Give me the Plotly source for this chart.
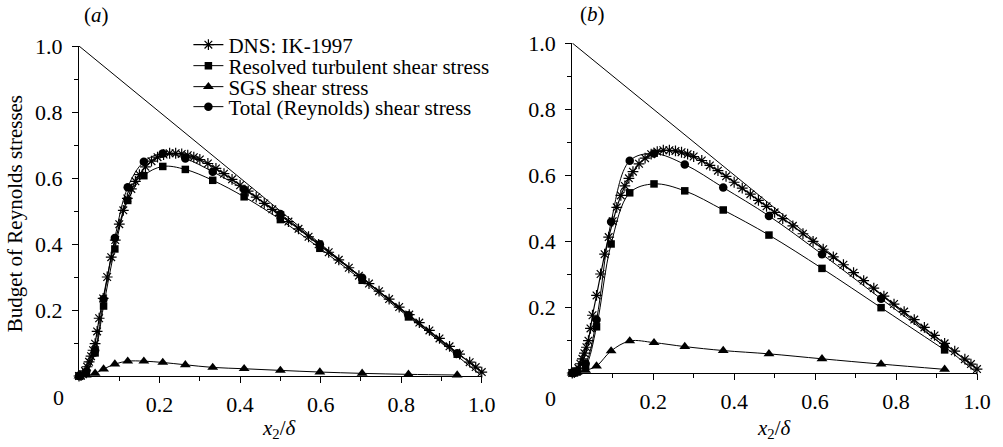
import plotly.graph_objects as go

# ---------------- data ----------------
# DNS: IK-1997 (same reference data in both panels)
dns_x = [0, 0.005, 0.01, 0.015, 0.02, 0.025, 0.03, 0.035, 0.04, 0.045, 0.05, 0.06, 0.07, 0.08,
         0.09, 0.10, 0.11, 0.12, 0.13, 0.14, 0.15, 0.165, 0.18, 0.195, 0.21, 0.225, 0.24, 0.255,
         0.27, 0.285, 0.30, 0.32, 0.34, 0.36, 0.38, 0.40, 0.42, 0.44, 0.46, 0.48, 0.50, 0.52,
         0.545, 0.57, 0.595, 0.62, 0.645, 0.67, 0.695, 0.72, 0.745, 0.77, 0.795, 0.82, 0.845,
         0.87, 0.895, 0.92, 0.945, 0.97, 0.985, 1.0]
dns_y = [0, 0.001, 0.005, 0.015, 0.028, 0.043, 0.06, 0.078, 0.098, 0.135, 0.175, 0.235, 0.3, 0.36,
         0.412, 0.46, 0.502, 0.538, 0.567, 0.59, 0.61, 0.634, 0.651, 0.663, 0.671, 0.675, 0.675, 0.673,
         0.669, 0.663, 0.656, 0.644, 0.629, 0.613, 0.596, 0.578, 0.56, 0.542, 0.523, 0.505, 0.487, 0.468,
         0.446, 0.422, 0.399, 0.375, 0.352, 0.328, 0.304, 0.28, 0.257, 0.233, 0.209, 0.186, 0.162,
         0.138, 0.114, 0.09, 0.066, 0.042, 0.027, 0.012]

# total stress line (1 - x2/delta)
diag_x = [0.0, 1.0]
diag_y = [1.0, 0.0]

# Panel (a) LES
xa = [0, 0.018, 0.04, 0.061, 0.089, 0.121, 0.161, 0.208, 0.264, 0.332, 0.41, 0.5, 0.598, 0.703, 0.818, 0.939]
res_a = [0, 0.01, 0.07, 0.212, 0.385, 0.532, 0.607, 0.635, 0.626, 0.593, 0.543, 0.474, 0.387, 0.29, 0.179, 0.066]
sgs_a = [0, 0.003, 0.008, 0.021, 0.036, 0.045, 0.045, 0.041, 0.034, 0.026, 0.022, 0.017, 0.012, 0.008, 0.005, 0.003]
tot_a = [0, 0.013, 0.078, 0.233, 0.418, 0.572, 0.649, 0.674, 0.659, 0.619, 0.565, 0.491, 0.399, 0.298, 0.184, 0.069]

# Panel (b) LES
xb = [0, 0.012, 0.033, 0.06, 0.096, 0.142, 0.202, 0.278, 0.373, 0.486, 0.617, 0.763, 0.92]
res_b = [0, 0.003, 0.021, 0.14, 0.391, 0.546, 0.573, 0.552, 0.494, 0.418, 0.317, 0.198, 0.07]
sgs_b = [0, 0.002, 0.008, 0.021, 0.067, 0.097, 0.092, 0.08, 0.068, 0.058, 0.043, 0.027, 0.011]
tot_b = [0, 0.005, 0.029, 0.161, 0.458, 0.643, 0.665, 0.632, 0.562, 0.476, 0.36, 0.225, 0.081]

names = ["DNS: IK-1997", "Resolved turbulent shear stress", "SGS shear stress",
         "Total (Reynolds) shear stress"]
tick_vals = [0.2, 0.4, 0.6, 0.8, 1.0]
tick_text = ["0.2", "0.4", "0.6", "0.8", "1.0"]
minor_vals = [0.1, 0.3, 0.5, 0.7, 0.9]

# ---------------- layout helpers ----------------
W, H = 1003, 447
ML, MR, MT, MB = 79, 21, 40, 68
PW, PH = W - ML - MR, H - MT - MB
FONT = "Liberation Serif"


def px(x):
    return (x - ML) / PW


def py(y):
    return (H - MB - y) / PH


fig = go.Figure()

panels = [("x", "y", xa, res_a, sgs_a, tot_a, True),
          ("x2", "y2", xb, res_b, sgs_b, tot_b, False)]

for xax, yax, xs, rs, ss, ts, show in panels:
    fig.add_trace(go.Scatter(x=diag_x, y=diag_y, mode="lines", xaxis=xax, yaxis=yax,
                             line=dict(color="black", width=1), showlegend=False,
                             hoverinfo="skip"))
    fig.add_trace(go.Scatter(x=dns_x, y=dns_y, mode="lines+markers", xaxis=xax, yaxis=yax,
                             name=names[0], legend="legend", showlegend=show,
                             line=dict(color="black", width=1.2),
                             marker=dict(symbol="asterisk-open", size=9, color="black",
                                         line=dict(color="black", width=1.2)),
                             cliponaxis=False))
    fig.add_trace(go.Scatter(x=xs, y=rs, mode="lines+markers", xaxis=xax, yaxis=yax,
                             name=names[1], legend="legend2", showlegend=show,
                             line=dict(color="black", width=1, shape="spline", smoothing=1),
                             marker=dict(symbol="square", size=7.5, color="black"),
                             cliponaxis=False))
    fig.add_trace(go.Scatter(x=xs, y=ss, mode="lines+markers", xaxis=xax, yaxis=yax,
                             name=names[2], legend="legend3", showlegend=show,
                             line=dict(color="black", width=1, shape="spline", smoothing=1),
                             marker=dict(symbol="triangle-up", size=9.5, color="black"),
                             cliponaxis=False))
    fig.add_trace(go.Scatter(x=xs, y=ts, mode="lines+markers", xaxis=xax, yaxis=yax,
                             name=names[3], legend="legend4", showlegend=show,
                             line=dict(color="black", width=1, shape="spline", smoothing=1),
                             marker=dict(symbol="circle", size=8.5, color="black"),
                             cliponaxis=False))

axis_common = dict(range=[0, 1], showline=True, linecolor="black", linewidth=1,
                   showgrid=False, zeroline=False, ticks="outside", ticklen=6,
                   tickwidth=1, tickcolor="black", tickvals=tick_vals, ticktext=tick_text,
                   tickfont=dict(family=FONT, size=22, color="black"),
                   minor=dict(tickvals=minor_vals, ticks="outside", ticklen=4,
                              tickcolor="black", tickwidth=1),
                   fixedrange=True)

legend_rows = [45, 66, 87, 107]
legend_common = dict(x=px(189), xanchor="left", yanchor="middle",
                     font=dict(family=FONT, size=21, color="black"),
                     bgcolor="rgba(0,0,0,0)", borderwidth=0, itemwidth=30)

fig.update_layout(
    width=W, height=H,
    margin=dict(l=ML, r=MR, t=MT, b=MB),
    paper_bgcolor="white", plot_bgcolor="white",
    font=dict(family=FONT, size=21, color="black"),
    xaxis=dict(domain=[px(79), px(484)], anchor="y", ticklabelstandoff=3, **axis_common),
    yaxis=dict(domain=[py(376), py(46)], anchor="x", ticklabelstandoff=5, **axis_common),
    xaxis2=dict(domain=[px(575), px(982)], anchor="y2", ticklabelstandoff=3, **axis_common),
    yaxis2=dict(domain=[py(373), py(43)], anchor="x2", ticklabelstandoff=5, **axis_common),
    legend=dict(y=py(legend_rows[0]), **legend_common),
    legend2=dict(y=py(legend_rows[1]), **legend_common),
    legend3=dict(y=py(legend_rows[2]), **legend_common),
    legend4=dict(y=py(legend_rows[3]), **legend_common),
)

ann_font = dict(family=FONT, size=21, color="black")
annotations = [
    dict(text="0", x=px(58), y=py(397), font=dict(family=FONT, size=22, color="black")),
    dict(text="0", x=px(553), y=py(398), font=dict(family=FONT, size=22, color="black")),
    dict(text="(<i>a</i>)", x=px(97), y=py(15), font=ann_font),
    dict(text="(<i>b</i>)", x=px(595), y=py(14), font=ann_font),
    dict(text="<i>x</i><sub>2</sub>/<i>δ</i>", x=px(281), y=py(429), font=ann_font),
    dict(text="<i>x</i><sub>2</sub>/<i>δ</i>", x=px(778), y=py(429), font=ann_font),
    dict(text="Budget of Reynolds stresses", x=px(15), y=py(214), textangle=-90, font=ann_font),
]
for a in annotations:
    fig.add_annotation(xref="paper", yref="paper", showarrow=False,
                       xanchor="center", yanchor="middle", **a)

fig.write_html("out.html")
